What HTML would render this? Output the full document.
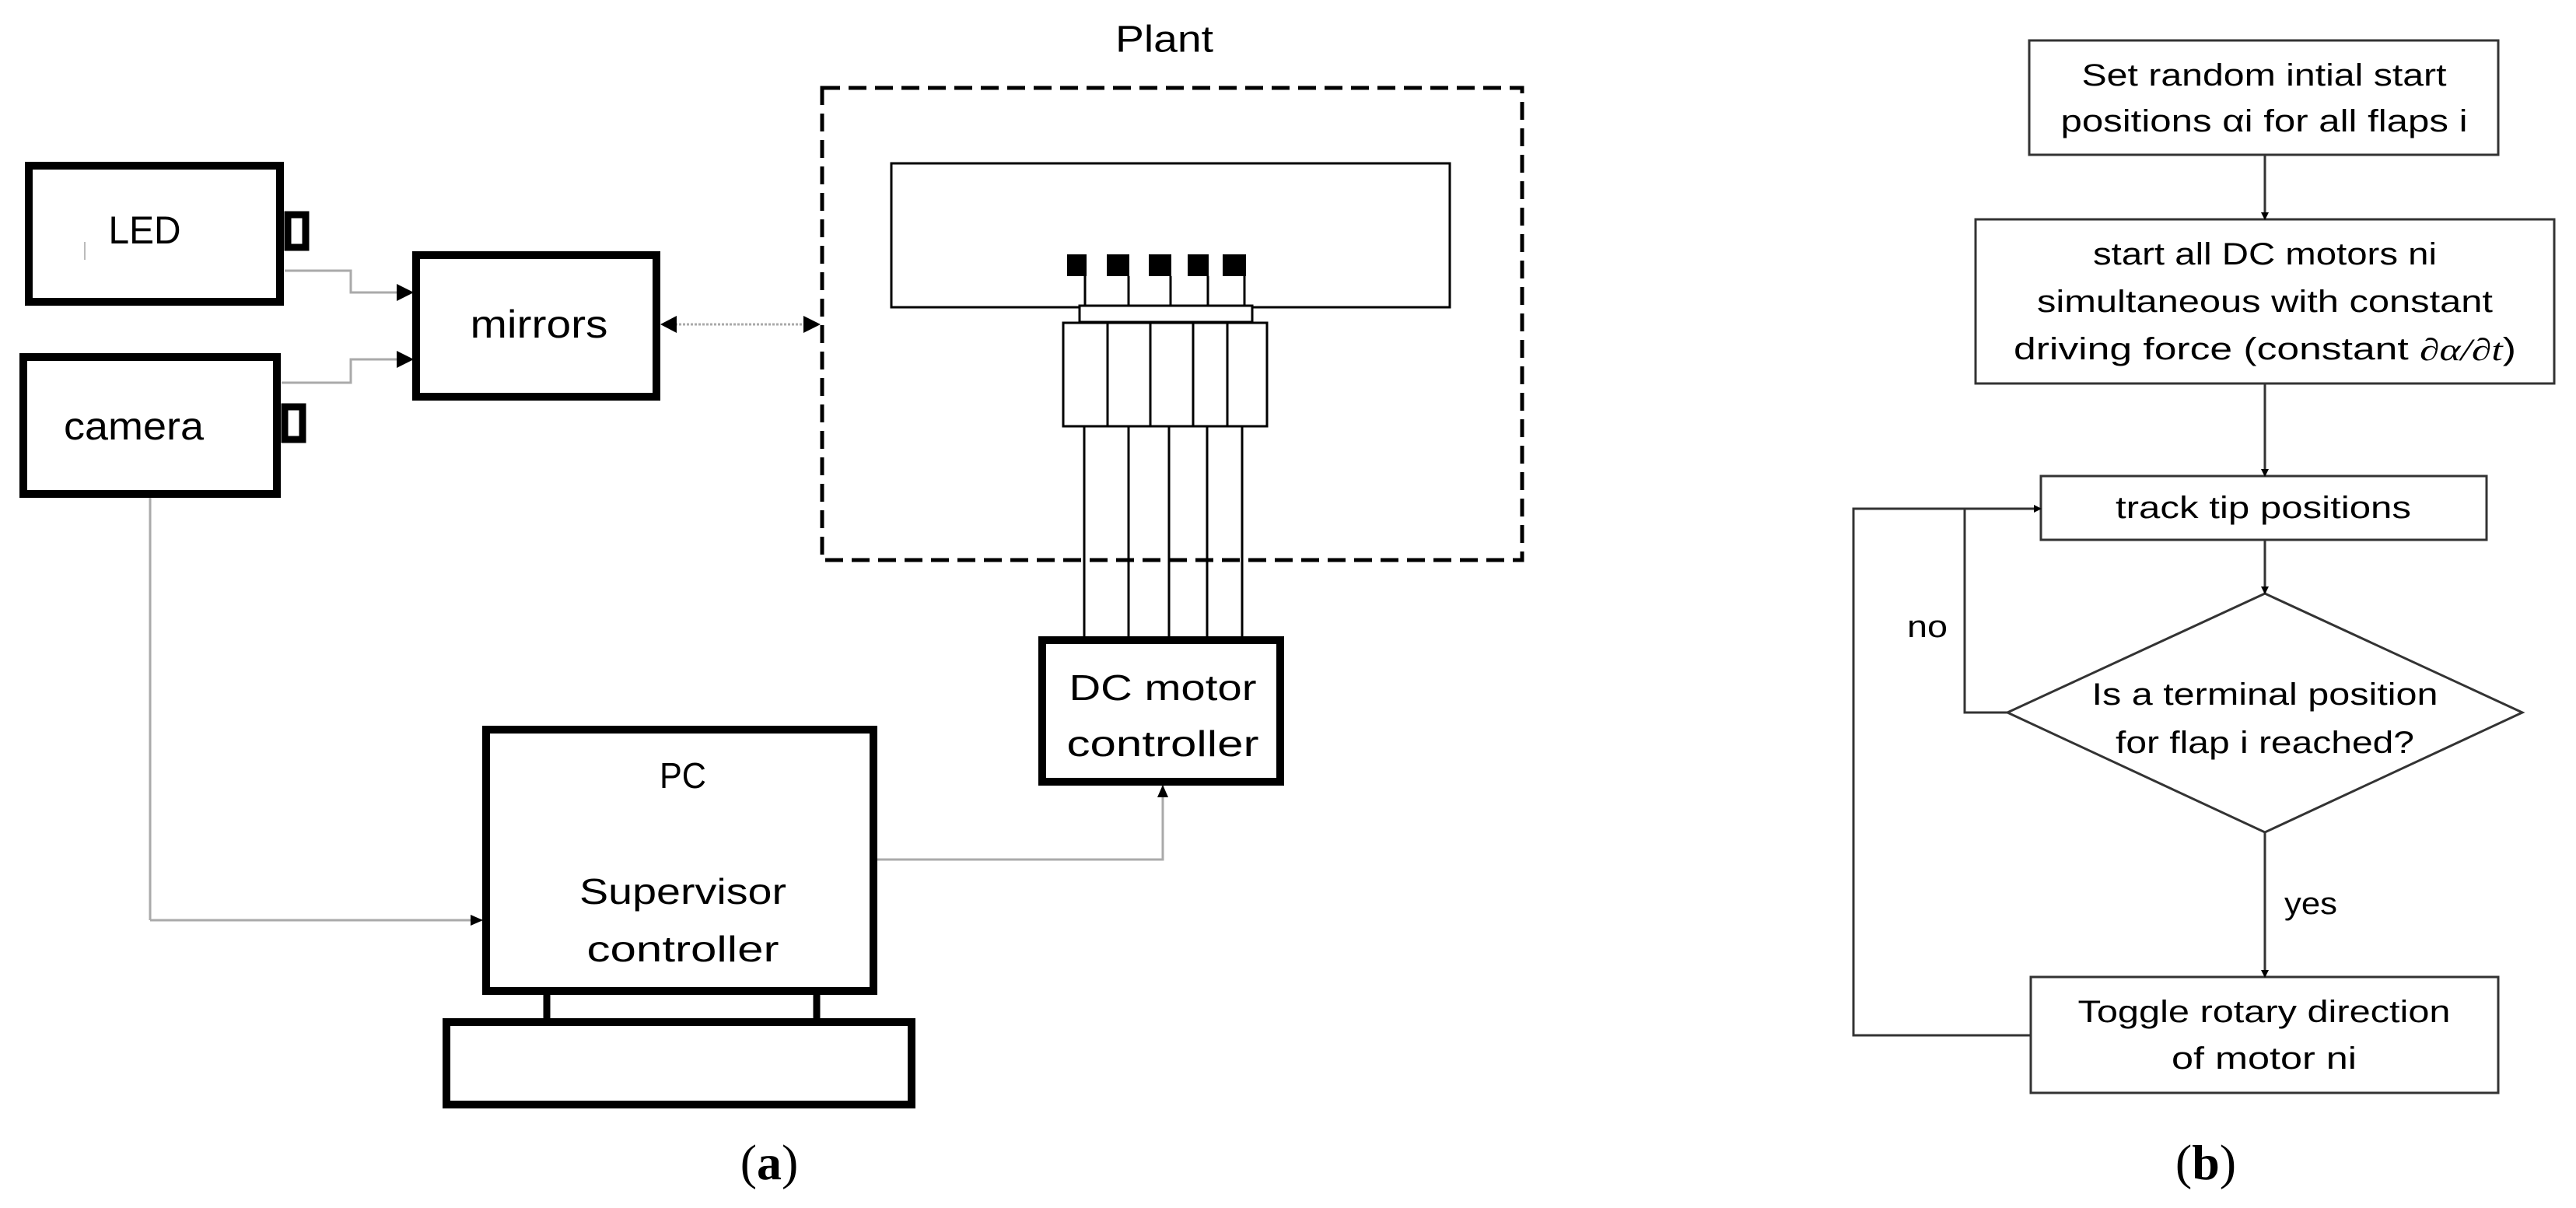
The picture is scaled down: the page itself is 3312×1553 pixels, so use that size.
<!DOCTYPE html>
<html><head><meta charset="utf-8"><style>
html,body{margin:0;padding:0;background:#fff;}
svg{display:block;}
text{font-family:"Liberation Sans",sans-serif;fill:#000;}
</style></head><body>
<svg width="3312" height="1553" viewBox="0 0 3312 1553" xmlns="http://www.w3.org/2000/svg">
<defs>
<marker id="ag" markerWidth="10" markerHeight="10" refX="9" refY="5" orient="auto" markerUnits="userSpaceOnUse" viewBox="0 0 10 10"><path d="M0,0 L10,5 L0,10 z" fill="#000"/></marker>
<marker id="aL" markerWidth="22" markerHeight="22" refX="20" refY="11" orient="auto" markerUnits="userSpaceOnUse" viewBox="0 0 22 22"><path d="M0,0 L22,11 L0,22 z" fill="#000"/></marker>
<marker id="aS" markerWidth="16" markerHeight="16" refX="15" refY="8" orient="auto" markerUnits="userSpaceOnUse" viewBox="0 0 16 16"><path d="M0,1 L16,8 L0,15 z" fill="#000"/></marker>
</defs>

<!-- ===== Panel (a) ===== -->
<g fill="none" stroke="#000" stroke-width="10">
  <rect x="37" y="213" width="323" height="175"/>
  <rect x="370" y="276" width="23" height="42" stroke-width="9"/>
  <rect x="30" y="459" width="326" height="176"/>
  <rect x="366" y="523" width="23" height="42" stroke-width="9"/>
  <rect x="535" y="328" width="309" height="182"/>
  <rect x="625" y="938" width="498" height="336"/>
  <rect x="574" y="1314" width="598" height="106"/>
  <rect x="1340" y="823" width="306" height="182"/>
</g>
<line x1="703" y1="1279" x2="703" y2="1309" stroke="#000" stroke-width="9"/>
<line x1="1050" y1="1279" x2="1050" y2="1309" stroke="#000" stroke-width="9"/>
<line x1="109" y1="311" x2="109" y2="334" stroke="#bbb" stroke-width="2"/>

<text x="186" y="296" font-size="50" text-anchor="middle" dominant-baseline="central" textLength="93" lengthAdjust="spacingAndGlyphs">LED</text>
<text x="172" y="548" font-size="50" text-anchor="middle" dominant-baseline="central" textLength="180" lengthAdjust="spacingAndGlyphs">camera</text>
<text x="693" y="417" font-size="50" text-anchor="middle" dominant-baseline="central" textLength="177" lengthAdjust="spacingAndGlyphs">mirrors</text>
<text x="1497" y="51" font-size="48" text-anchor="middle" dominant-baseline="central" textLength="126" lengthAdjust="spacingAndGlyphs">Plant</text>
<text x="1495" y="884" font-size="46" text-anchor="middle" dominant-baseline="central" textLength="241" lengthAdjust="spacingAndGlyphs">DC motor</text>
<text x="1495" y="956" font-size="46" text-anchor="middle" dominant-baseline="central" textLength="247" lengthAdjust="spacingAndGlyphs">controller</text>
<text x="878" y="997" font-size="46" text-anchor="middle" dominant-baseline="central" textLength="60" lengthAdjust="spacingAndGlyphs">PC</text>
<text x="878" y="1146" font-size="46" text-anchor="middle" dominant-baseline="central" textLength="266" lengthAdjust="spacingAndGlyphs">Supervisor</text>
<text x="878" y="1220" font-size="46" text-anchor="middle" dominant-baseline="central" textLength="247" lengthAdjust="spacingAndGlyphs">controller</text>

<!-- gray connectors -->
<g fill="none" stroke="#aaa" stroke-width="3">
  <polyline points="366,348 451,348 451,376 530,376" marker-end="url(#aL)"/>
  <polyline points="362,492 451,492 451,462 530,462" marker-end="url(#aL)"/>
  <line x1="193" y1="640" x2="193" y2="1183"/>
  <polyline points="193,1183 620,1183" marker-end="url(#aS)"/>
  <polyline points="1128,1105 1495,1105 1495,1010" marker-end="url(#aS)"/>
  <line x1="868" y1="417" x2="1036" y2="417" stroke-dasharray="3,2"/>
</g>
<path d="M849,417 L870,406 L870,428 z" fill="#000"/>
<path d="M1055,417 L1033,406 L1033,428 z" fill="#000"/>

<!-- Plant -->
<rect x="1057" y="113" width="900" height="607" fill="none" stroke="#000" stroke-width="5" stroke-dasharray="23,11"/>
<rect x="1146" y="210" width="718" height="185" fill="none" stroke="#000" stroke-width="3"/>
<g fill="#000">
  <rect x="1372" y="327" width="25" height="28"/>
  <rect x="1423" y="327" width="29" height="28"/>
  <rect x="1477" y="327" width="29" height="28"/>
  <rect x="1527" y="327" width="27" height="28"/>
  <rect x="1572" y="327" width="30" height="28"/>
</g>
<g stroke="#000" stroke-width="3" fill="none">
  <line x1="1395" y1="355" x2="1395" y2="393"/>
  <line x1="1451" y1="355" x2="1451" y2="393"/>
  <line x1="1505" y1="355" x2="1505" y2="393"/>
  <line x1="1553" y1="355" x2="1553" y2="393"/>
  <line x1="1600" y1="355" x2="1600" y2="393"/>
  <rect x="1388" y="393" width="222" height="21" fill="#fff"/>
  <rect x="1367" y="415" width="262" height="133" fill="#fff"/>
  <line x1="1424" y1="415" x2="1424" y2="548"/>
  <line x1="1479" y1="415" x2="1479" y2="548"/>
  <line x1="1534" y1="415" x2="1534" y2="548"/>
  <line x1="1578" y1="415" x2="1578" y2="548"/>
  <line x1="1394" y1="548" x2="1394" y2="820"/>
  <line x1="1451" y1="548" x2="1451" y2="820"/>
  <line x1="1503" y1="548" x2="1503" y2="820"/>
  <line x1="1552" y1="548" x2="1552" y2="820"/>
  <line x1="1597" y1="548" x2="1597" y2="820"/>
</g>

<text x="989" y="1494" font-size="64" text-anchor="middle" dominant-baseline="central" style="font-family:'Liberation Serif',serif">(<tspan font-weight="bold">a</tspan>)</text>

<!-- ===== Panel (b) ===== -->
<g fill="none" stroke="#333" stroke-width="3">
  <rect x="2609" y="52" width="603" height="147"/>
  <rect x="2540" y="282" width="744" height="211"/>
  <rect x="2624" y="612" width="573" height="82"/>
  <polygon points="2912,763 3243,916 2912,1070 2581,916"/>
  <rect x="2611" y="1256" width="601" height="149"/>
  <line x1="2912" y1="199" x2="2912" y2="282" marker-end="url(#ag)"/>
  <line x1="2912" y1="493" x2="2912" y2="612" marker-end="url(#ag)"/>
  <line x1="2912" y1="694" x2="2912" y2="763" marker-end="url(#ag)"/>
  <line x1="2912" y1="1070" x2="2912" y2="1256" marker-end="url(#ag)"/>
  <polyline points="2581,916 2526,916 2526,654"/>
  <polyline points="2611,1331 2383,1331 2383,654 2624,654" marker-end="url(#ag)"/>
</g>
<g font-size="40" text-anchor="middle" dominant-baseline="central">
  <text x="2911" y="97" textLength="469" lengthAdjust="spacingAndGlyphs">Set random intial start</text>
  <text x="2911" y="156" textLength="523" lengthAdjust="spacingAndGlyphs">positions αi for  all flaps  i</text>
  <text x="2912" y="327" textLength="442" lengthAdjust="spacingAndGlyphs">start all DC motors ni</text>
  <text x="2912" y="388" textLength="586" lengthAdjust="spacingAndGlyphs">simultaneous with constant</text>
  <text x="2912" y="449" textLength="646" lengthAdjust="spacingAndGlyphs">driving force (constant <tspan font-style="italic" style="font-family:'Liberation Serif',serif">∂α/∂t</tspan>)</text>
  <text x="2910" y="653" textLength="380" lengthAdjust="spacingAndGlyphs">track tip positions</text>
  <text x="2912" y="893" textLength="445" lengthAdjust="spacingAndGlyphs">Is a terminal position</text>
  <text x="2912" y="955" textLength="384" lengthAdjust="spacingAndGlyphs">for flap i reached?</text>
  <text x="2478" y="806" textLength="52" lengthAdjust="spacingAndGlyphs">no</text>
  <text x="2971" y="1162" textLength="68" lengthAdjust="spacingAndGlyphs">yes</text>
  <text x="2911" y="1301" textLength="479" lengthAdjust="spacingAndGlyphs">Toggle rotary direction</text>
  <text x="2911" y="1361" textLength="238" lengthAdjust="spacingAndGlyphs">of motor ni</text>
</g>
<text x="2836" y="1494" font-size="64" text-anchor="middle" dominant-baseline="central" style="font-family:'Liberation Serif',serif">(<tspan font-weight="bold">b</tspan>)</text>
</svg>
</body></html>
